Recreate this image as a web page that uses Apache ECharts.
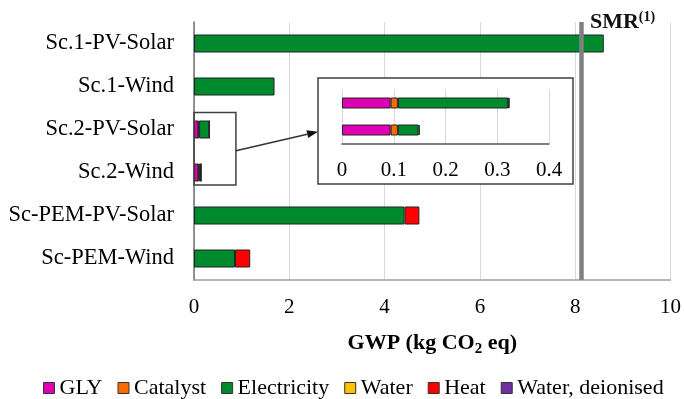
<!DOCTYPE html>
<html>
<head>
<meta charset="utf-8">
<script src="https://cdn.jsdelivr.net/npm/echarts@6/dist/echarts.min.js"></script>
<style>html,body{margin:0;padding:0;background:#fff;}#c{width:684px;height:399px;}</style>
</head>
<body>
<div id="c"></div>
<script>
const categories = ['Sc.1-PV-Solar','Sc.1-Wind','Sc.2-PV-Solar','Sc.2-Wind','Sc-PEM-PV-Solar','Sc-PEM-Wind'];
const insetIdx = [2, 3];
const seriesNames = ['GLY','Catalyst','Electricity','Water','Heat','Water, deionised'];
const gly         = [null, null, 0.094, 0.094, null, null];
const catalyst    = [null, null, 0.014, 0.014, null, null];
const electricity = [8.6, 1.69, 0.213, 0.040, 4.42, 0.86];
const water       = [null, null, null, null, null, null];
const heat        = [null, null, null, null, 0.31, 0.32];
const waterDeion  = [null, null, 0.003, 0.002, null, null];
const smrValue = 8.12;
const mainTicks = {min: 0, max: 10, interval: 2};
const insetTicks = {min: 0, max: 0.4, interval: 0.1};

const colors = ['#E000B4','#FF6A00','#008A2E','#FFC000','#FF0000','#7030A0'];
const values = [gly, catalyst, electricity, water, heat, waterDeion];
const FONT = 'Liberation Serif';

const chart = echarts.init(document.getElementById('c'), null, {renderer: 'canvas'});
const series = [];
values.forEach((arr, i) => {
  series.push({
    name: seriesNames[i], type: 'bar', stack: 'main', xAxisIndex: 0, yAxisIndex: 0,
    data: arr, barWidth: 18, itemStyle: {color: colors[i], borderColor: '#222', borderWidth: 1},
    silent: true, z: 2
  });
});
values.forEach((arr, i) => {
  series.push({
    name: seriesNames[i], type: 'bar', stack: 'inset', xAxisIndex: 1, yAxisIndex: 1,
    data: insetIdx.map(k => arr[k]), barWidth: 11,
    itemStyle: {color: colors[i], borderColor: '#222', borderWidth: 1},
    silent: true, z: 5
  });
});
series[5].markLine = {
  silent: true, symbol: 'none', z: 10,
  lineStyle: {color: '#808080', width: 4.5, type: 'solid'},
  label: {show: false},
  data: [{xAxis: smrValue}]
};

chart.setOption({
  animation: false,
  backgroundColor: '#fff',
  textStyle: {fontFamily: FONT},
  legend: {
    top: 377, left: 43, padding: 0, itemWidth: 11, itemHeight: 11, itemGap: 15, icon: 'rect',
    data: seriesNames,
    textStyle: {fontFamily: FONT, fontSize: 22, color: '#000', lineHeight: 22},
    itemStyle: {borderColor: '#333', borderWidth: 1}
  },
  grid: [
    {left: 194, right: 11, top: 22, bottom: 119},
    {left: 342, width: 207, top: 89.5, height: 54, z: 4}
  ],
  xAxis: [
    {type: 'value', gridIndex: 0, min: mainTicks.min, max: mainTicks.max, interval: mainTicks.interval,
     axisLine: {show: true, lineStyle: {color: '#a0a0a0', width: 1.5}}, axisTick: {show: false},
     splitLine: {show: true, lineStyle: {color: '#d9d9d9', width: 1}},
     axisLabel: {fontFamily: FONT, fontSize: 21, color: '#000', margin: 17},
     name: 'GWP (kg CO{s|2} eq)', nameLocation: 'middle', nameGap: 50,
     nameTextStyle: {fontFamily: FONT, fontSize: 22, fontWeight: 'bold', color: '#000',
       rich: {s: {fontFamily: FONT, fontSize: 15, fontWeight: 'bold', color: '#000', padding: [12,0,0,0]}}}},
    {type: 'value', gridIndex: 1, min: insetTicks.min, max: insetTicks.max, interval: insetTicks.interval, z: 4,
     axisLine: {show: true, lineStyle: {color: '#555', width: 1.5}}, axisTick: {show: false},
     splitLine: {show: true, lineStyle: {color: '#d9d9d9', width: 1}},
     axisLabel: {fontFamily: FONT, fontSize: 21, color: '#000', margin: 16}}
  ],
  yAxis: [
    {type: 'category', gridIndex: 0, data: categories, inverse: true,
     axisLine: {show: true, lineStyle: {color: '#707070', width: 1.5}}, axisTick: {show: false},
     axisLabel: {fontFamily: FONT, fontSize: 22.5, color: '#000', margin: 20}},
    {type: 'category', gridIndex: 1, data: insetIdx.map(k => categories[k]), inverse: true, z: 4,
     axisLine: {show: false}, axisTick: {show: false}, axisLabel: {show: false}}
  ],
  series: series
});

// annotations: inset frame, zoom box, arrow, SMR label
const x0 = chart.convertToPixel({xAxisIndex: 0}, 0);
const xBoxR = chart.convertToPixel({xAxisIndex: 0}, 0.88);
const yA = chart.convertToPixel({yAxisIndex: 0}, categories[2]);
const yB = chart.convertToPixel({yAxisIndex: 0}, categories[3]);
const boxTop = yA - 17, boxBot = yB + 12.5;
const inset = {x: 318, y: 78, w: 255, h: 106};
const ax = xBoxR, ay = (boxTop + boxBot) / 2 + 2;
const bx = inset.x, by = 131.7;
const ang = Math.atan2(by - ay, bx - ax);
const L = 11, W = 4;
const hx = bx - L * Math.cos(ang), hy = by - L * Math.sin(ang);
const smrX = chart.convertToPixel({xAxisIndex: 0}, smrValue);

chart.setOption({
  graphic: [
    {type: 'rect', z: 1, silent: true, shape: {x: inset.x, y: inset.y, width: inset.w, height: inset.h},
     style: {fill: '#fff', stroke: '#404040', lineWidth: 1.5}},
    {type: 'rect', z: 3, silent: true, shape: {x: x0, y: boxTop, width: xBoxR - x0, height: boxBot - boxTop},
     style: {fill: 'none', stroke: '#404040', lineWidth: 1.5}},
    {type: 'line', z: 3, silent: true, shape: {x1: ax, y1: ay, x2: hx, y2: hy},
     style: {stroke: '#333', lineWidth: 1.5}},
    {type: 'polygon', z: 3, silent: true,
     shape: {points: [[bx, by],
       [hx + W * Math.sin(ang), hy - W * Math.cos(ang)],
       [hx - W * Math.sin(ang), hy + W * Math.cos(ang)]]},
     style: {fill: '#111'}},
    {type: 'text', z: 12, silent: true, x: smrX + 9, y: 22,
     style: {text: '{a|SMR}{b|(1)}', verticalAlign: 'middle',
       rich: {a: {fontFamily: FONT, fontSize: 22, fontWeight: 'bold', fill: '#111'},
              b: {fontFamily: FONT, fontSize: 14, fontWeight: 'bold', fill: '#111', padding: [0,0,9,0]}}}}
  ]
});
</script>
</body>
</html>
